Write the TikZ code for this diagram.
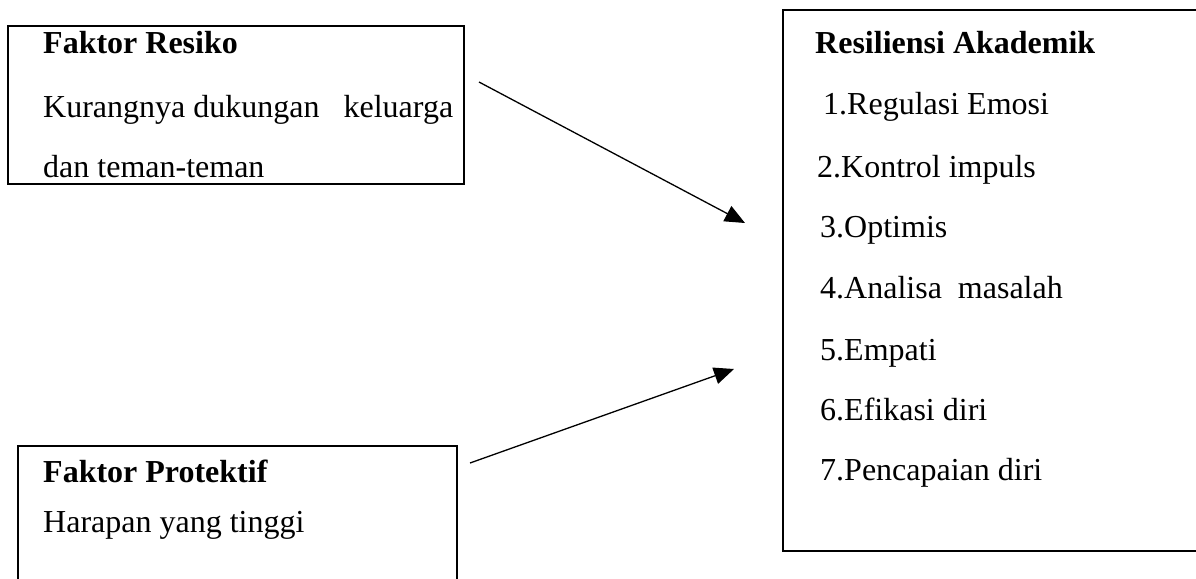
\documentclass[tikz,border=0pt]{standalone}
\usepackage{fontspec}
\setmainfont{Liberation Serif}
\usetikzlibrary{arrows.meta}

\begin{document}
\begin{tikzpicture}[x=1pt,y=-1pt,
  txt/.style={anchor=base west,inner sep=0pt,font=\fontsize{32}{38}\selectfont},
  hd/.style={anchor=base west,inner sep=0pt,font=\fontsize{32}{38}\selectfont\bfseries},
  kotak/.style={draw,line width=2pt,anchor=north west,inner sep=0pt},
  panah/.style={line width=1.3pt,-{Triangle[length=20pt,width=17pt]}}]
  \useasboundingbox (0,0) rectangle (1196,578);
  \clip (0,0) rectangle (1196,578);
  % kotak-kotak
  \node[kotak,minimum width=456pt,minimum height=158pt] (boxresiko) at (7,25) {};
  \node[kotak,minimum width=439pt,minimum height=160pt] (boxprotektif) at (17,445) {};
  \node[kotak,minimum width=440pt,minimum height=541pt] (boxresiliensi) at (782,9) {};
  % faktor resiko
  \node[hd] (resiko) at (43,53) {Faktor Resiko};
  \node[txt] (resiko1) at (43,117) {\makebox[410pt][s]{Kurangnya dukungan\hfill keluarga}};
  \node[txt] (resiko2) at (43,177) {dan teman-teman};
  % faktor protektif
  \node[hd] (protektif) at (43,482) {Faktor Protektif};
  \node[txt] (protektif1) at (43,532) {Harapan yang tinggi};
  % resiliensi akademik
  \node[hd] (resiliensi) at (815,53) {Resiliensi Akademik};
  \node[txt] (aspek1) at (823,114) {1.Regulasi Emosi};
  \node[txt] (aspek2) at (817,177) {2.Kontrol impuls};
  \node[txt] (aspek3) at (820,237) {3.Optimis};
  \node[txt] (aspek4) at (820,298) {4.Analisa\ \ masalah};
  \node[txt] (aspek5) at (820,360) {5.Empati};
  \node[txt] (aspek6) at (820,420) {6.Efikasi diri};
  \node[txt] (aspek7) at (820,480) {7.Pencapaian diri};
  % panah
  \coordinate (a1) at (479,82);
  \coordinate (b1) at (745,223);
  \coordinate (a2) at (470,463);
  \coordinate (b2) at (734,369);
  \draw[panah] (a1) -- (b1);
  \draw[panah] (a2) -- (b2);
\end{tikzpicture}
\end{document}
